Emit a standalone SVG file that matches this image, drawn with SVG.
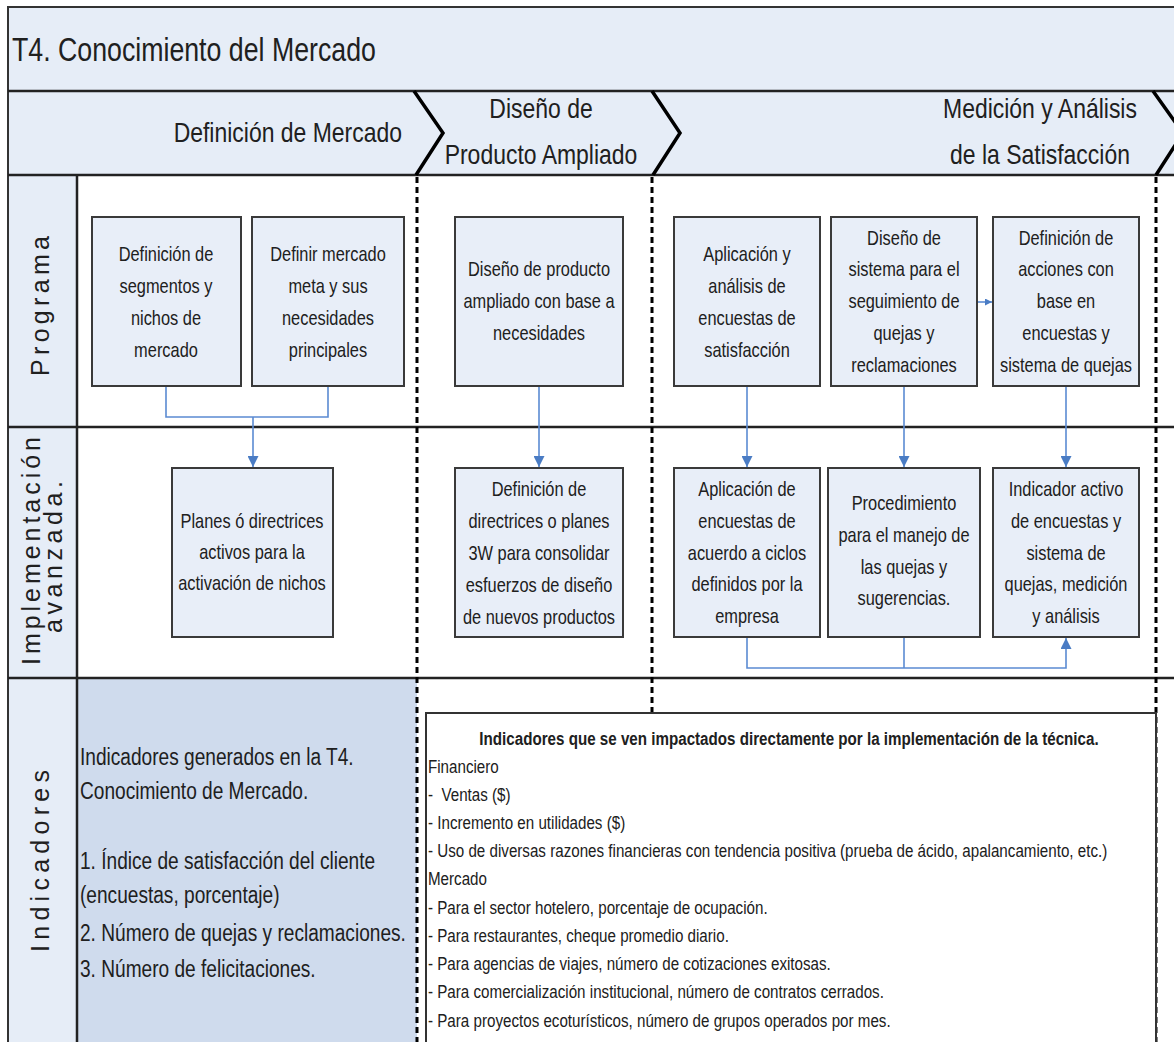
<svg xmlns="http://www.w3.org/2000/svg" width="1174" height="1042" viewBox="0 0 1174 1042">
  <defs>
    <style>
      /* narrow captions: Liberation Sans squeezed horizontally to 82 % by each group's matrix */
      .n { font-family: "Liberation Sans", Arial, sans-serif; fill: #202020; }
      .bt { font-size: 20px; text-anchor: middle; }
      .hd { font-size: 28px; }
      .it { font-size: 18.5px; }
      .lbl { font-family: "Liberation Sans", Arial, sans-serif; font-size: 25px; fill: #202020; text-anchor: middle; }
      .box { fill: #e8eef8; stroke: #3a3a3a; stroke-width: 2; }
      .band { fill: #e6edf7; }
      .rule { stroke: #222; stroke-width: 2.5; fill: none; }
      .dash { stroke: #000; stroke-width: 3; stroke-dasharray: 6 4; fill: none; }
      .chev { stroke: #000; stroke-width: 3.5; fill: none; stroke-linejoin: miter; }
      .conn { fill: none; stroke: #5b8bd2; stroke-width: 1.6; }
    </style>
    <marker id="arr" viewBox="0 0 10 10" refX="10" refY="5" markerWidth="7" markerHeight="7" markerUnits="userSpaceOnUse" orient="auto">
      <path d="M0,0 L10,5 L0,10 z" fill="#4a7cc4"/>
    </marker>
    <marker id="arrBig" viewBox="0 0 10 10" refX="10" refY="5" markerWidth="11" markerHeight="11" markerUnits="userSpaceOnUse" orient="auto">
      <path d="M0,0 L10,5 L0,10 z" fill="#4a7cc4"/>
    </marker>
  </defs>

  <!-- background bands -->
  <rect x="0" y="0" width="1174" height="1042" fill="#ffffff"/>
  <rect class="band" x="8" y="7" width="1170" height="168"/>
  <rect class="band" x="8" y="175" width="69" height="870"/>
  <rect x="77" y="678" width="340" height="370" fill="#cfdbed"/>

  <!-- frame and row rules -->
  <g id="frame">
    <rect x="8" y="7" width="1180" height="1050" fill="none" stroke="#333" stroke-width="2"/>
    <line class="rule" x1="8" y1="91" x2="1174" y2="91"/>
    <line class="rule" x1="8" y1="175" x2="1174" y2="175"/>
    <line class="rule" x1="8" y1="427" x2="1174" y2="427"/>
    <line class="rule" x1="8" y1="678" x2="1174" y2="678"/>
    <line class="rule" x1="77" y1="175" x2="77" y2="1042"/>
  </g>

  <!-- phase chevrons -->
  <g id="phases">
    <polyline class="chev" points="414,91 443,133 416,175"/>
    <polyline class="chev" points="652,91 680,133 653,175"/>
    <polyline class="chev" points="1153,91 1183,133 1156,175"/>
  </g>

  <!-- phase separators -->
  <g id="separators">
    <line class="dash" x1="417" y1="177" x2="417" y2="1042"/>
    <line class="dash" x1="652" y1="177" x2="652" y2="712"/>
    <line class="dash" x1="1156" y1="177" x2="1156" y2="1042"/>
  </g>

  <!-- title and phase headings -->
  <g id="title" transform="matrix(0.82 0 0 1 2.16 0)">
    <text class="n" x="12" y="61" font-size="32.6">T4. Conocimiento del Mercado</text>
  </g>
  <g id="phase-1" transform="matrix(0.82 0 0 1 72.36 0)">
    <text class="n hd" x="402" y="142" text-anchor="end">Definición de Mercado</text>
  </g>
  <g id="phase-2" transform="matrix(0.82 0 0 1 97.38 0)">
    <text class="n hd" text-anchor="middle"><tspan x="541" y="118">Diseño de</tspan><tspan x="541" y="164">Producto Ampliado</tspan></text>
  </g>
  <g id="phase-3" transform="matrix(0.82 0 0 1 187.2 0)">
    <text class="n hd" text-anchor="middle"><tspan x="1040" y="118">Medición y Análisis</tspan><tspan x="1040" y="164">de la Satisfacción</tspan></text>
  </g>

  <!-- row labels -->
  <g id="row-programa">
    <text class="lbl" transform="translate(49,306) rotate(-90)" textLength="140" lengthAdjust="spacing">Programa</text>
  </g>
  <g id="row-implementacion">
    <text class="lbl" font-size="24" transform="translate(40,551) rotate(-90)" textLength="228" lengthAdjust="spacing">Implementación</text>
    <text class="lbl" font-size="24" transform="translate(62,557) rotate(-90)" textLength="152" lengthAdjust="spacing">avanzada.</text>
  </g>
  <g id="row-indicadores">
    <text class="lbl" transform="translate(49,861) rotate(-90)" textLength="182" lengthAdjust="spacing">Indicadores</text>
  </g>

  <!-- connectors -->
  <g id="connectors">
    <path class="conn" d="M166,386 V417 H328 V386"/>
    <path class="conn" d="M253,417 V467" marker-end="url(#arrBig)"/>
    <path class="conn" d="M539,386 V467" marker-end="url(#arrBig)"/>
    <path class="conn" d="M747,386 V467" marker-end="url(#arrBig)"/>
    <path class="conn" d="M904,386 V467" marker-end="url(#arrBig)"/>
    <path class="conn" d="M1066,386 V467" marker-end="url(#arrBig)"/>
    <path class="conn" d="M977,302 H992" marker-end="url(#arr)"/>
    <path class="conn" d="M747,637 V668 H1066 V638" marker-end="url(#arrBig)"/>
    <path class="conn" d="M904,637 V668"/>
  </g>

  <!-- Programa row -->
  <g id="n-segmentos">
    <rect class="box" x="92" y="217" width="149" height="169"/>
    <g transform="matrix(0.82 0 0 1 29.88 0)"><text class="n bt"><tspan x="166" y="261">Definición de</tspan><tspan x="166" y="293">segmentos y</tspan><tspan x="166" y="325">nichos de</tspan><tspan x="166" y="357">mercado</tspan></text></g>
  </g>
  <g id="n-mercado-meta">
    <rect class="box" x="252" y="217" width="152" height="169"/>
    <g transform="matrix(0.82 0 0 1 59.04 0)"><text class="n bt"><tspan x="328" y="261">Definir mercado</tspan><tspan x="328" y="293">meta y sus</tspan><tspan x="328" y="325">necesidades</tspan><tspan x="328" y="357">principales</tspan></text></g>
  </g>
  <g id="n-diseno-producto">
    <rect class="box" x="455" y="217" width="168" height="169"/>
    <g transform="matrix(0.82 0 0 1 97.02 0)"><text class="n bt"><tspan x="539" y="276">Diseño de producto</tspan><tspan x="539" y="308">ampliado con base a</tspan><tspan x="539" y="340">necesidades</tspan></text></g>
  </g>
  <g id="n-aplicacion-analisis">
    <rect class="box" x="674" y="217" width="146" height="169"/>
    <g transform="matrix(0.82 0 0 1 134.46 0)"><text class="n bt"><tspan x="747" y="261">Aplicación y</tspan><tspan x="747" y="293">análisis de</tspan><tspan x="747" y="325">encuestas de</tspan><tspan x="747" y="357">satisfacción</tspan></text></g>
  </g>
  <g id="n-sistema-quejas">
    <rect class="box" x="831" y="217" width="146" height="169"/>
    <g transform="matrix(0.82 0 0 1 162.72 0)"><text class="n bt"><tspan x="904" y="245">Diseño de</tspan><tspan x="904" y="276">sistema para el</tspan><tspan x="904" y="308">seguimiento de</tspan><tspan x="904" y="340">quejas y</tspan><tspan x="904" y="372">reclamaciones</tspan></text></g>
  </g>
  <g id="n-acciones">
    <rect class="box" x="993" y="217" width="146" height="169"/>
    <g transform="matrix(0.82 0 0 1 191.88 0)"><text class="n bt"><tspan x="1066" y="245">Definición de</tspan><tspan x="1066" y="276">acciones con</tspan><tspan x="1066" y="308">base en</tspan><tspan x="1066" y="340">encuestas y</tspan><tspan x="1066" y="372">sistema de quejas</tspan></text></g>
  </g>

  <!-- Implementación avanzada row -->
  <g id="n-planes-nichos">
    <rect class="box" x="172" y="468" width="161" height="169"/>
    <g transform="matrix(0.82 0 0 1 45.36 0)"><text class="n bt"><tspan x="252" y="528">Planes ó directrices</tspan><tspan x="252" y="559">activos para la</tspan><tspan x="252" y="590">activación de nichos</tspan></text></g>
  </g>
  <g id="n-directrices-3w">
    <rect class="box" x="455" y="468" width="168" height="169"/>
    <g transform="matrix(0.82 0 0 1 97.02 0)"><text class="n bt"><tspan x="539" y="496">Definición de</tspan><tspan x="539" y="528">directrices o planes</tspan><tspan x="539" y="560">3W para consolidar</tspan><tspan x="539" y="592">esfuerzos de diseño</tspan><tspan x="539" y="624">de nuevos productos</tspan></text></g>
  </g>
  <g id="n-aplicacion-ciclos">
    <rect class="box" x="674" y="468" width="146" height="169"/>
    <g transform="matrix(0.82 0 0 1 134.46 0)"><text class="n bt"><tspan x="747" y="496">Aplicación de</tspan><tspan x="747" y="528">encuestas de</tspan><tspan x="747" y="560">acuerdo a ciclos</tspan><tspan x="747" y="591">definidos por la</tspan><tspan x="747" y="623">empresa</tspan></text></g>
  </g>
  <g id="n-procedimiento">
    <rect class="box" x="828" y="468" width="152" height="169"/>
    <g transform="matrix(0.82 0 0 1 162.72 0)"><text class="n bt"><tspan x="904" y="510">Procedimiento</tspan><tspan x="904" y="542">para el manejo de</tspan><tspan x="904" y="574">las quejas y</tspan><tspan x="904" y="605">sugerencias.</tspan></text></g>
  </g>
  <g id="n-indicador-activo">
    <rect class="box" x="993" y="468" width="146" height="169"/>
    <g transform="matrix(0.82 0 0 1 191.88 0)"><text class="n bt"><tspan x="1066" y="496">Indicador activo</tspan><tspan x="1066" y="528">de encuestas y</tspan><tspan x="1066" y="560">sistema de</tspan><tspan x="1066" y="591">quejas, medición</tspan><tspan x="1066" y="623">y análisis</tspan></text></g>
  </g>

  <!-- Indicadores row -->
  <g id="n-indicadores-t4">
    <g transform="matrix(0.82 0 0 1 14.4 0)"><text class="n" font-size="23.3"><tspan x="80" y="765">Indicadores generados en la T4.</tspan><tspan x="80" y="799">Conocimiento de Mercado.</tspan><tspan x="80" y="869">1. Índice de satisfacción del cliente</tspan><tspan x="80" y="903">(encuestas, porcentaje)</tspan><tspan x="80" y="941">2. Número de quejas y reclamaciones.</tspan><tspan x="80" y="977">3. Número de felicitaciones.</tspan></text></g>
  </g>
  <g id="n-indicadores-impacto">
    <rect x="426" y="713" width="730" height="340" fill="#ffffff" stroke="#333" stroke-width="2"/>
    <g transform="matrix(0.82 0 0 1 142.02 0)"><text class="n it" x="789" y="745" text-anchor="middle" font-weight="bold">Indicadores que se ven impactados directamente por la implementación de la técnica.</text></g>
    <g transform="matrix(0.82 0 0 1 77.04 0)"><text class="n it" font-size="18.6" xml:space="preserve"><tspan x="428" y="773">Financiero</tspan><tspan x="428" y="801">-  Ventas ($)</tspan><tspan x="428" y="829">- Incremento en utilidades ($)</tspan><tspan x="428" y="857">- Uso de diversas razones financieras con tendencia positiva (prueba de ácido, apalancamiento, etc.)</tspan><tspan x="428" y="885">Mercado</tspan><tspan x="428" y="914">- Para el sector hotelero, porcentaje de ocupación.</tspan><tspan x="428" y="942">- Para restaurantes, cheque promedio diario.</tspan><tspan x="428" y="970">- Para agencias de viajes, número de cotizaciones exitosas.</tspan><tspan x="428" y="998">- Para comercialización institucional, número de contratos cerrados.</tspan><tspan x="428" y="1027">- Para proyectos ecoturísticos, número de grupos operados por mes.</tspan></text></g>
  </g>
</svg>
